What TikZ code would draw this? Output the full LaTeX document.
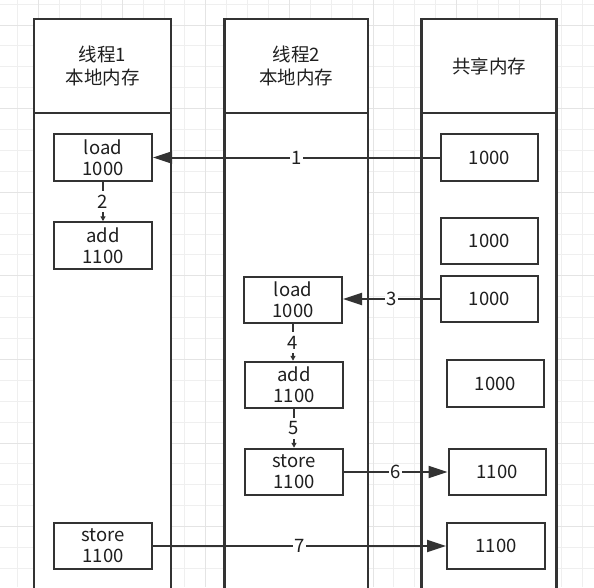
\documentclass[tikz,border=0pt]{standalone}
\usepackage{fontspec}
\setmainfont{Noto Sans CJK SC}
\usetikzlibrary{arrows.meta}
\definecolor{ln}{HTML}{333333}
\definecolor{tx}{HTML}{1F1F1F}
\definecolor{gmin}{HTML}{EFEFEF}
\definecolor{gmaj}{HTML}{E4E4E4}
\begin{document}
\begin{tikzpicture}[x=1pt,y=-1pt,
  lanebody/.style={draw=ln, line width=2.5pt, fill=white},
  lanehead/.style={draw=ln, line width=2.5pt, fill=white, minimum height=94pt, inner sep=0pt, align=center, text=tx, font=\fontsize{18.5}{23}\selectfont},
  box/.style={draw=ln, line width=2pt, fill=white, minimum width=98pt, minimum height=46.5pt, inner sep=0pt, align=center, text=tx, font=\fontsize{18.5}{21}\selectfont},
  conn/.style={draw=ln, line width=2pt},
  bigtip/.style={-{Triangle[length=19pt,width=12pt]}},
  smalltip/.style={-{Triangle[length=5pt,width=5pt]}},
  lbl/.style={fill=white, inner sep=1.5pt, text=tx, font=\fontsize{18.5}{21}\selectfont},
  vlbl/.style={lbl, inner ysep=4pt}
]
\useasboundingbox (0,0) rectangle (594,587);
\clip (0,0) rectangle (594,587);
\fill[white] (0,0) rectangle (594,587);
% grid
\foreach \k in {0,...,27} {
  \draw[gmin, line width=1pt] ({17.7+20.9*\k},0) -- ({17.7+20.9*\k},587);
  \draw[gmin, line width=1pt] (0,{4.1+20.9*\k}) -- (594,{4.1+20.9*\k});
}
\foreach \k in {1,5,...,25} {
  \draw[gmaj, line width=1pt] ({17.7+20.9*\k},0) -- ({17.7+20.9*\k},587);
  \draw[gmaj, line width=1pt] (0,{4.1+20.9*\k}) -- (594,{4.1+20.9*\k});
}
% lanes
\draw[lanebody] (34,113) rectangle (171,600);
\draw[lanebody] (224.5,113) rectangle (368,600);
\draw[lanebody] (421.5,113) rectangle (556.7,600);
\node[lanehead, minimum width=137pt] (h1) at (102.5,66) {线程1\\本地内存};
\node[lanehead, minimum width=143.5pt] (h2) at (296.25,66) {线程2\\本地内存};
\node[lanehead, minimum width=135.2pt] (h3) at (489.1,66) {共享内存};
% boxes
\node[box] (b1load) at (103,157.5) {load\\1000};
\node[box] (b1add) at (103,245.5) {add\\1100};
\node[box] (b1store) at (103,546) {store\\1100};
\node[box] (b2load) at (293,300) {load\\1000};
\node[box] (b2add) at (294,385) {add\\1100};
\node[box] (b2store) at (294,472) {store\\1100};
\node[box, minimum width=97pt] (s1) at (489.5,157.5) {1000};
\node[box, minimum width=97pt] (s2) at (489.5,241) {1000};
\node[box, minimum width=97pt] (s3) at (489.5,299) {1000};
\node[box, minimum width=97pt] (s4) at (495.5,383.5) {1000};
\node[box, minimum width=97pt] (s5) at (497,472) {1100};
\node[box] (s6) at (496,546) {1100};
% connectors
\draw[conn, bigtip] (s1.west) -- node[lbl] {1} (b1load.east);
\draw[conn, smalltip] (b1load.south) -- node[vlbl] {2} (b1add.north);
\draw[conn, bigtip] (s3.west) -- node[lbl] {3} (b2load.east |- s3.west);
\draw[conn, smalltip] (b2load.south) -- node[vlbl] {4} (b2load.south |- b2add.north);
\draw[conn, smalltip] (b2add.south) -- node[vlbl] {5} (b2store.north);
\draw[conn, bigtip] (b2store.east) -- node[lbl] {6} (s5.west);
\draw[conn, bigtip] (b1store.east) -- node[lbl] {7} (s6.west);
\end{tikzpicture}
\end{document}
